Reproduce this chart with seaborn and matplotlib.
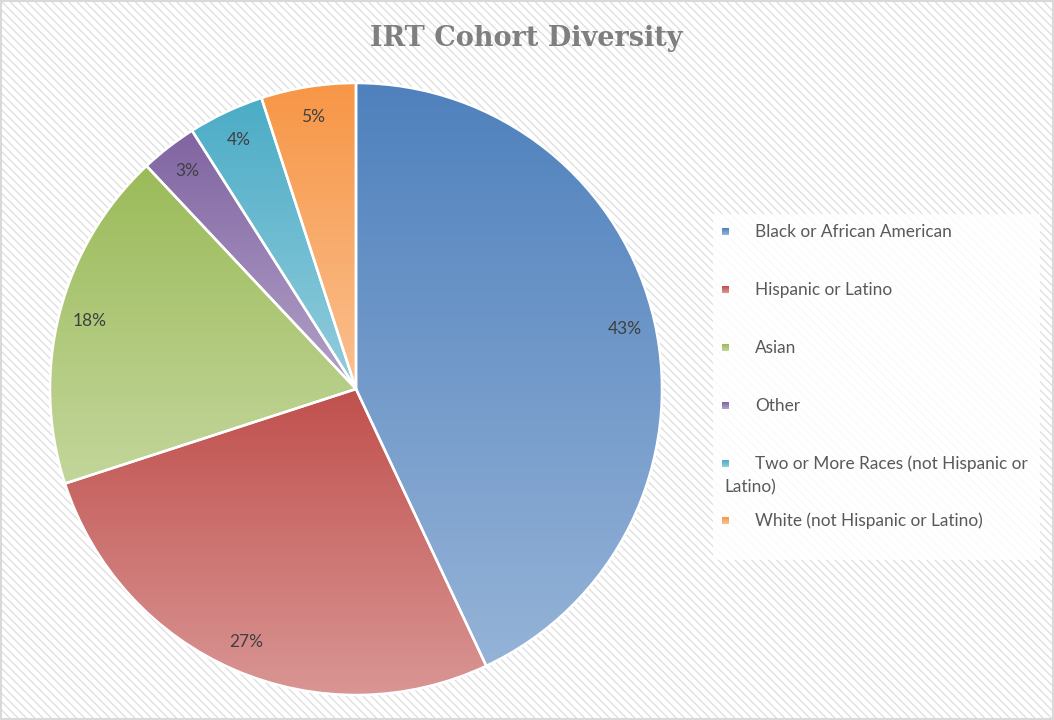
import numpy as np
import matplotlib
matplotlib.use("Agg")
import matplotlib.pyplot as plt
from matplotlib.patches import Rectangle
import seaborn as sns

# ---- data ----
title = "IRT Cohort Diversity"
categories = [
    "Black or African American",
    "Hispanic or Latino",
    "Asian",
    "Other",
    "Two or More Races (not Hispanic or Latino)",
    "White (not Hispanic or Latino)",
]
shares = [43, 27, 18, 3, 4, 5]
dark_colors = ["#4F81BD", "#C0504D", "#9BBB59", "#8064A2", "#4BACC6", "#F79646"]
light_colors = ["#95B3D7", "#D99694", "#C3D69B", "#B3A2C7", "#93CDDD", "#FAC090"]

sns.set_theme(style="white")
plt.rcParams['font.family'] = ['Lato', 'DejaVu Sans']
plt.rcParams['hatch.linewidth'] = 1.0

W, H = 1054, 720
fig = plt.figure(figsize=(W / 100, H / 100), dpi=100)

# background with diagonal hatch
bg = fig.add_axes([0, 0, 1, 1], zorder=0)
bg.set_xlim(0, W); bg.set_ylim(H, 0); bg.axis('off')
bg.add_patch(Rectangle((0, 0), W, H, facecolor='white', edgecolor='#E0E0E0',
                       hatch='\\\\\\\\', linewidth=0))
bg.add_patch(Rectangle((1, 1), W - 2, H - 2, fill=False, edgecolor='#D9D9D9', linewidth=1.5))


def gradient(c0, c1, n=256):
    pal = sns.blend_palette([c0, c1], n)
    return np.array(pal)[:, None, :]


# pie
cx, cy, R, pad = 356, 389, 306, 1.02
ax = fig.add_axes([(cx - R * pad) / W, (H - cy - R * pad) / H, 2 * R * pad / W, 2 * R * pad / H], zorder=1)
ax.patch.set_alpha(0)
wedges, texts, autotexts = ax.pie(
    shares, startangle=90, counterclock=False, radius=1, pctdistance=0.9,
    autopct=lambda p: f"{p:.0f}%",
    wedgeprops=dict(edgecolor='white', linewidth=1.8, facecolor='none'),
    textprops=dict(color='#404040', fontsize=12.5))
for w, c0, c1 in zip(wedges, dark_colors, light_colors):
    ext = w.get_path().get_extents()
    im = ax.imshow(gradient(c0, c1), extent=(ext.x0, ext.x1, ext.y0, ext.y1),
                   origin='upper', aspect='auto', zorder=0.5, interpolation='bilinear')
    im.set_clip_path(w)
ax.set_xlim(-pad, pad); ax.set_ylim(-pad, pad)
ax.axis('off')

# overlay: title + legend
lg = fig.add_axes([0, 0, 1, 1], zorder=2)
lg.set_xlim(0, W); lg.set_ylim(H, 0); lg.axis('off'); lg.patch.set_alpha(0)
lg.text(526, 39, title, ha='center', va='center', fontsize=19.5, fontweight='bold',
        family='DejaVu Serif', color='#7F7F7F')

lg.add_patch(Rectangle((713, 214), 327, 346, facecolor='white', alpha=0.85, edgecolor='none', zorder=1))
y = 232
for i, (lab, c0, c1) in enumerate(zip(categories, dark_colors, light_colors)):
    lg.imshow(gradient(c0, c1, 16), extent=(722, 729, y + 3.5, y - 3.5), origin='upper',
              aspect='auto', interpolation='bilinear', zorder=3)
    if len(lab) > 32:
        first, second = lab.rsplit(' ', 1)
        lg.text(755, y, first, va='center', ha='left', fontsize=12.4, color='#595959', zorder=3)
        lg.text(724, y + 23, second, va='center', ha='left', fontsize=12.4, color='#595959', zorder=3)
        y += 57
    else:
        lg.text(755, y, lab, va='center', ha='left', fontsize=12.4, color='#595959', zorder=3)
        y += 58
lg.set_xlim(0, W); lg.set_ylim(H, 0)

fig.savefig("out.png", dpi=100)
